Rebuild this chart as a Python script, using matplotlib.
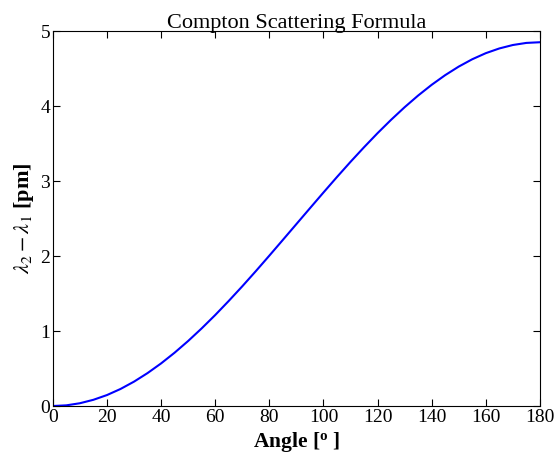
import numpy as np
import matplotlib
matplotlib.use('Agg')
import matplotlib.pyplot as plt

# angle in degrees, shift in pm, every 5 degrees
angle = [0, 5, 10, 15, 20, 25, 30, 35, 40, 45, 50, 55, 60, 65, 70, 75, 80, 85, 90,
         95, 100, 105, 110, 115, 120, 125, 130, 135, 140, 145, 150, 155, 160, 165,
         170, 175, 180]
shift = [0.0, 0.009, 0.037, 0.083, 0.146, 0.227, 0.325, 0.439, 0.568, 0.711, 0.867,
         1.035, 1.213, 1.401, 1.596, 1.798, 2.005, 2.215, 2.426, 2.637, 2.847, 3.054,
         3.256, 3.451, 3.639, 3.817, 3.985, 4.141, 4.284, 4.413, 4.527, 4.625, 4.706,
         4.769, 4.815, 4.843, 4.852]

plt.rcParams['font.family'] = 'Liberation Serif'
plt.rcParams['mathtext.fontset'] = 'stix'

fig = plt.figure(figsize=(5.56, 4.58), dpi=100)
ax = fig.add_axes([0.095, 0.1135, 0.876, 0.8185])
ax.plot(angle, shift, color='blue', linewidth=1.5)
ax.set_xlim(0, 180)
ax.set_ylim(0, 5)
ax.set_xticks(range(0, 181, 20))
ax.set_yticks(range(0, 6))
ax.tick_params(direction='in', top=True, right=True, labelsize=14, length=5, pad=2)
ax.set_xlabel(r'Angle [$\mathregular{^o}$ ]', fontsize=15.5, fontweight='bold', labelpad=3)
ax.set_ylabel(r'$\lambda_2 - \lambda_1$ [pm]', fontsize=16, fontweight='bold', labelpad=3)
ax.set_title('Compton Scattering Formula', fontsize=16, pad=2)
fig.savefig('out.png', dpi=100)
